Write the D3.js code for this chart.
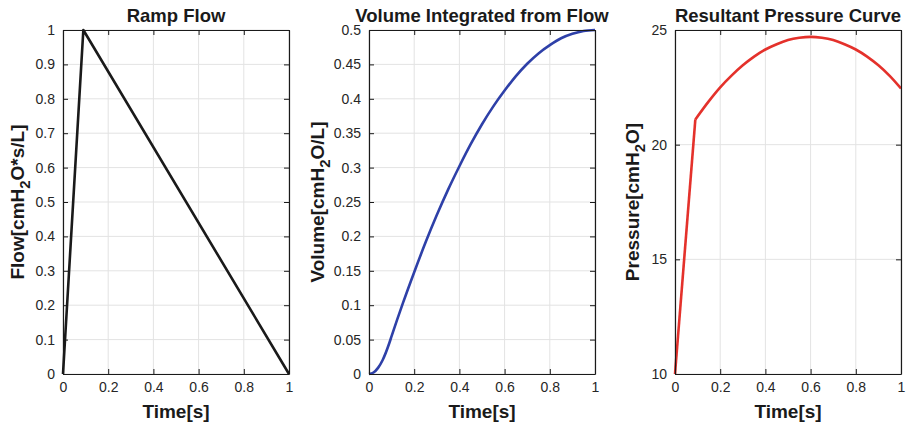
<!DOCTYPE html>
<html>
<head>
<meta charset="utf-8">
<script src="https://cdn.jsdelivr.net/npm/d3@7"></script>
<style>
  body { margin: 0; background: #fff; }
  svg { font-family: "Liberation Sans", Arial, Helvetica, sans-serif; }
</style>
</head>
<body>
<div id="chart"></div>
<script>
// ---- data ----
const timeTicks = [0, 0.2, 0.4, 0.6, 0.8, 1];

const flowTime = [0, 0.09, 1];
const flowValues = [0, 1, 0];
const flowTicks = [0, 0.1, 0.2, 0.3, 0.4, 0.5, 0.6, 0.7, 0.8, 0.9, 1];

const volumeTime = [0, 0.02, 0.04, 0.06, 0.09, 0.1, 0.15, 0.2, 0.25, 0.3, 0.35, 0.4, 0.45,
  0.5, 0.55, 0.6, 0.65, 0.7, 0.75, 0.8, 0.85, 0.9, 0.95, 1];
const volumeValues = [0, 0.0022, 0.0089, 0.02, 0.045, 0.055, 0.103, 0.148, 0.191, 0.231, 0.268,
  0.302, 0.334, 0.363, 0.389, 0.412, 0.433, 0.451, 0.466, 0.478, 0.488, 0.4945, 0.4986, 0.5];
const volumeTicks = [0, 0.05, 0.1, 0.15, 0.2, 0.25, 0.3, 0.35, 0.4, 0.45, 0.5];

// pressure: rise segment then smooth segment
const pressureRiseTime = [0, 0.09];
const pressureRiseValues = [10, 21.1];
const pressureTime = [0.09, 0.15, 0.2, 0.25, 0.3, 0.35, 0.4, 0.45, 0.5, 0.55, 0.6, 0.65, 0.7,
  0.75, 0.8, 0.85, 0.9, 0.95, 1];
const pressureValues = [21.1, 21.9, 22.5, 23.01, 23.46, 23.84, 24.15, 24.38, 24.56, 24.66, 24.7,
  24.66, 24.56, 24.38, 24.15, 23.84, 23.46, 23.0, 22.45];
const pressureTicks = [10, 15, 20, 25];

const svgWidth = 906;
const svgHeight = 426;
const plotTop = 30;
const plotBottom = 374;
const plotWidth = 226;

const svg = d3.select('#chart')
  .append('svg')
  .attr('width', svgWidth)
  .attr('height', svgHeight);

const panels = [
  {
    left: 63, title: 'Ramp Flow', label: ['Flow[cmH', '2', 'O*s/L]'], labelX: 18,
    domain: [0, 1], ticks: flowTicks, color: '#1a1a1a',
    segments: [{ t: flowTime, v: flowValues, curve: d3.curveLinear }]
  },
  {
    left: 369, title: 'Volume Integrated from Flow', label: ['Volume[cmH', '2', 'O/L]'], labelX: 318,
    domain: [0, 0.5], ticks: volumeTicks, color: '#2e40a8',
    segments: [{ t: volumeTime, v: volumeValues, curve: d3.curveMonotoneX }]
  },
  {
    left: 675, title: 'Resultant Pressure Curve', label: ['Pressure[cmH', '2', 'O]'], labelX: 633,
    domain: [10, 25], ticks: pressureTicks, color: '#e4312b',
    segments: [
      { t: pressureRiseTime, v: pressureRiseValues, curve: d3.curveLinear },
      { t: pressureTime, v: pressureValues, curve: d3.curveMonotoneX }
    ]
  }
];

panels.forEach(drawPanel);

function drawPanel(p) {
  const x = d3.scaleLinear().domain([0, 1]).range([p.left, p.left + plotWidth]);
  const y = d3.scaleLinear().domain(p.domain).range([plotBottom, plotTop]);
  const g = svg.append('g');

  // grid
  g.selectAll('.vgrid').data(timeTicks).enter().append('line')
    .attr('x1', d => x(d)).attr('x2', d => x(d))
    .attr('y1', plotTop).attr('y2', plotBottom)
    .attr('stroke', '#e3e3e3').attr('stroke-width', 1);
  g.selectAll('.hgrid').data(p.ticks).enter().append('line')
    .attr('x1', p.left).attr('x2', p.left + plotWidth)
    .attr('y1', d => y(d)).attr('y2', d => y(d))
    .attr('stroke', '#e3e3e3').attr('stroke-width', 1);

  // series
  p.segments.forEach(s => {
    const line = d3.line()
      .x((d, i) => x(s.t[i]))
      .y(d => y(d))
      .curve(s.curve);
    g.append('path')
      .datum(s.v)
      .attr('d', line)
      .attr('fill', 'none')
      .attr('stroke', p.color)
      .attr('stroke-width', 2.6)
      .attr('stroke-linejoin', 'round');
  });

  // axes (ticks inward, box on)
  const fmt = d => String(+d.toFixed(3));
  const axes = [
    { gen: d3.axisBottom(x).tickValues(timeTicks).tickFormat(fmt), pos: `translate(0,${plotBottom})` },
    { gen: d3.axisTop(x).tickValues(timeTicks).tickFormat(''), pos: `translate(0,${plotTop})` },
    { gen: d3.axisLeft(y).tickValues(p.ticks).tickFormat(fmt), pos: `translate(${p.left},0)` },
    { gen: d3.axisRight(y).tickValues(p.ticks).tickFormat(''), pos: `translate(${p.left + plotWidth},0)` }
  ];
  axes.forEach(a => {
    const ag = g.append('g')
      .attr('transform', a.pos)
      .call(a.gen.tickSizeInner(-5).tickSizeOuter(0).tickPadding(8));
    ag.select('.domain').attr('stroke', '#1a1a1a').attr('stroke-width', 1.2);
    ag.selectAll('.tick line').attr('stroke', '#1a1a1a');
    ag.selectAll('.tick text')
      .attr('font-size', 14)
      .attr('fill', '#262626')
      .attr('font-family', '"Liberation Sans", Arial, sans-serif');
  });

  // title
  g.append('text')
    .attr('x', p.left + plotWidth / 2)
    .attr('y', 22)
    .attr('text-anchor', 'middle')
    .attr('font-size', 18.5)
    .attr('font-weight', 'bold')
    .attr('fill', '#1a1a1a')
    .text(p.title);

  // x label
  g.append('text')
    .attr('x', p.left + plotWidth / 2)
    .attr('y', 418)
    .attr('text-anchor', 'middle')
    .attr('font-size', 19)
    .attr('font-weight', 'bold')
    .attr('fill', '#1a1a1a')
    .text('Time[s]');

  // y label with subscript
  const yl = g.append('text')
    .attr('transform', `translate(${p.labelX + 6},${(plotTop + plotBottom) / 2}) rotate(-90)`)
    .attr('text-anchor', 'middle')
    .attr('font-size', 19)
    .attr('font-weight', 'bold')
    .attr('fill', '#1a1a1a');
  yl.append('tspan').text(p.label[0]);
  yl.append('tspan').attr('dy', 6).attr('font-size', 15).text(p.label[1]);
  yl.append('tspan').attr('dy', -6).text(p.label[2]);
}
</script>
</body>
</html>
